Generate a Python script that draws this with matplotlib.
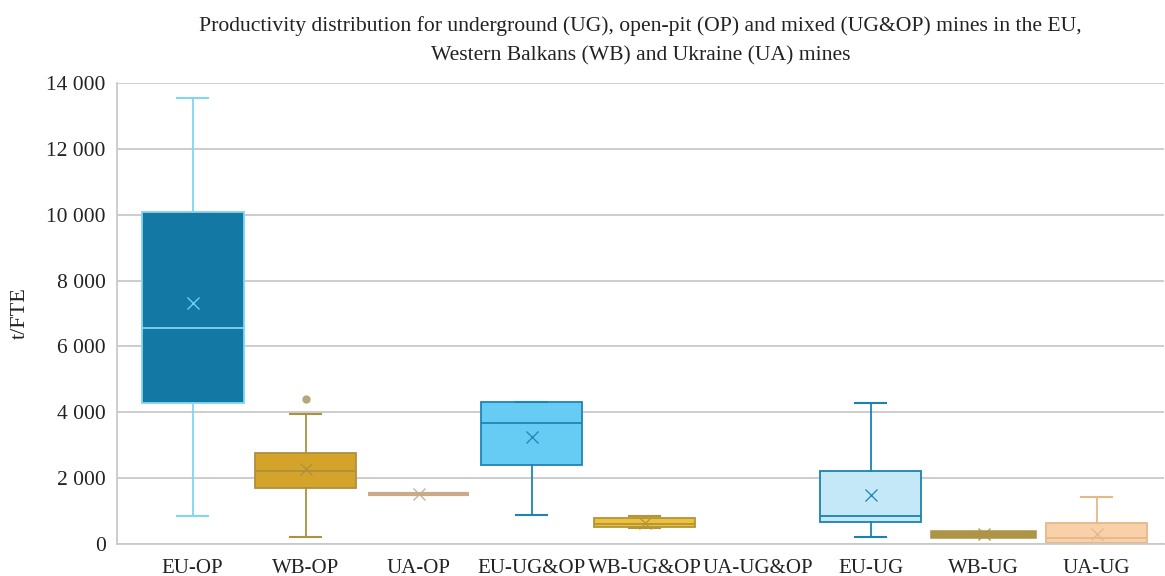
import matplotlib
matplotlib.use('Agg')
import matplotlib.pyplot as plt
from matplotlib.ticker import FuncFormatter

plt.rcParams['font.family'] = ['Liberation Serif', 'DejaVu Serif']

# five-number summaries + mean per mine group (t/FTE)
categories = ['EU-OP', 'WB-OP', 'UA-OP', 'EU-UG&OP', 'WB-UG&OP', 'UA-UG&OP', 'EU-UG', 'WB-UG', 'UA-UG']
whis_low = [850, 200, 1530, 870, 470, None, 210, 230, 20]
q1 = [4290, 1710, 1530, 2390, 510, None, 670, 250, 30]
median = [6560, 2220, 1530, 3670, 620, None, 840, 280, 170]
q3 = [10080, 2770, 1530, 4300, 790, None, 2210, 330, 650]
whis_high = [13550, 3950, 1530, 4300, 840, None, 4290, 330, 1430]
mean = [7320, 2270, 1530, 3240, 650, None, 1480, 290, 310]
outliers = [[], [4400], [], [], [], [], [], [], []]

fills = ['#1378a4', '#d4a42a', '#c9ab8b', '#66ccf3', '#ebc13f', None, '#c5e8f8', '#ae9447', '#f8d1aa']
edges = ['#80d6f5', '#ad9040', '#c9ab8b', '#1f84b4', '#b39436', None, '#1a82b3', '#ae9447', '#e6b888']

fig = plt.figure(figsize=(11.65, 5.76), dpi=100)
ax = fig.add_axes([0.1004, 0.0556, 0.8990, 0.8003])

for i, cat in enumerate(categories):
    if median[i] is None:
        continue
    stats = [dict(whislo=whis_low[i], q1=q1[i], med=median[i], q3=q3[i],
                  whishi=whis_high[i], mean=mean[i], fliers=outliers[i], label=cat)]
    ax.bxp(stats, positions=[i], widths=0.9, capwidths=0.28, patch_artist=True,
           showmeans=True, manage_ticks=False,
           boxprops=dict(facecolor=fills[i], edgecolor=edges[i], linewidth=1.3),
           medianprops=dict(color=edges[i], linewidth=1.3),
           whiskerprops=dict(color=edges[i], linewidth=1.3),
           capprops=dict(color=edges[i], linewidth=1.5),
           meanprops=dict(marker='x', markeredgecolor=edges[i], markersize=8, markeredgewidth=0.9),
           flierprops=dict(marker='o', markerfacecolor='#b5a97a', markeredgecolor='#b5a97a', markersize=5))
    # flat boxes get a thicker outline so they read as a bar
    if q1[i] == q3[i] or i == 7:
        ax.patches[-1].set_linewidth(4 if i == 7 else 3)

ax.set_xlim(-0.67, 8.6)
ax.set_ylim(0, 14000)
ax.set_yticks(range(0, 14001, 2000))
ax.yaxis.set_major_formatter(FuncFormatter(lambda v, p: f'{int(v):,}'.replace(',', ' ')))
ax.set_xticks(range(len(categories)))
ax.set_xticklabels(categories)
ax.tick_params(axis='both', length=0, colors='#222222', pad=8)
ax.tick_params(axis='y', labelsize=15.5)
ax.tick_params(axis='x', labelsize=15, pad=11)

ax.grid(axis='y', color='#c9c9c9', linewidth=1.3)
ax.set_axisbelow(True)
for s in ['top', 'right']:
    ax.spines[s].set_visible(False)
for s in ['left', 'bottom']:
    ax.spines[s].set_color('#c9c9c9')
    ax.spines[s].set_linewidth(1.3)

ax.set_ylabel('t/FTE', fontsize=16, color='#222222', labelpad=12)
ax.set_title('Productivity distribution for underground (UG), open-pit (OP) and mixed (UG&OP) mines in the EU,\n'
             'Western Balkans (WB) and Ukraine (UA) mines', fontsize=15.6, color='#222222',
             linespacing=1.75, pad=16)

fig.savefig('out.png', dpi=100)
